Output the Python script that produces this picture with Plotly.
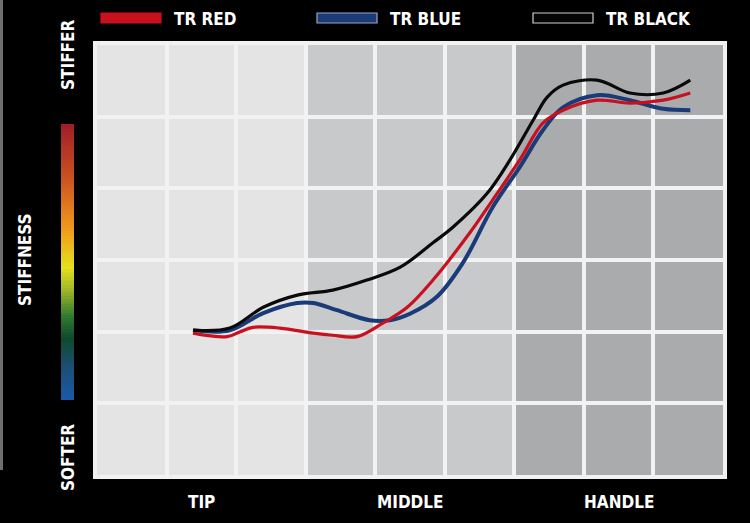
import plotly.graph_objects as go

W, H = 750, 523

# ---- data (x: position along shaft in grid units 0..9, y: stiffness in grid units 0..6)
red_x = [1.38, 1.87, 2.06, 2.24, 2.63, 3.11, 3.39, 3.74, 4.11, 4.46, 4.83, 5.36, 5.69, 6.08, 6.41, 6.70, 7.19, 7.66, 8.14, 8.53]
red_y = [1.98, 1.93, 2.00, 2.06, 2.05, 1.98, 1.95, 1.93, 2.12, 2.34, 2.72, 3.38, 3.84, 4.40, 4.91, 5.09, 5.23, 5.19, 5.23, 5.33]

blue_x = [1.38, 1.91, 2.39, 2.88, 3.11, 3.45, 3.92, 4.21, 4.50, 4.89, 5.26, 5.69, 6.08, 6.41, 6.70, 7.19, 7.66, 8.14, 8.53]
blue_y = [2.02, 2.02, 2.26, 2.40, 2.40, 2.30, 2.16, 2.16, 2.25, 2.49, 2.96, 3.74, 4.30, 4.81, 5.13, 5.30, 5.23, 5.11, 5.09]

black_x = [1.38, 1.91, 2.39, 2.88, 3.39, 3.88, 4.36, 4.83, 5.12, 5.61, 5.94, 6.27, 6.47, 6.70, 7.19, 7.66, 8.14, 8.53]
black_y = [2.02, 2.05, 2.34, 2.51, 2.58, 2.72, 2.90, 3.24, 3.46, 3.93, 4.40, 4.95, 5.27, 5.44, 5.51, 5.33, 5.33, 5.51]

section_labels = ["TIP", "MIDDLE", "HANDLE"]
section_pos = [1.5, 4.5, 7.5]
section_colors = ["#e4e4e4", "#c8c9ca", "#a9abac"]
series_names = ["TR RED", "TR BLUE", "TR BLACK"]
series_colors = ["#c8101e", "#1b3a78", "#0a0a0a"]
stiff_scale = [[0.0, "#1c58a8"], [0.12, "#1a4e72"], [0.22, "#0f4a2c"], [0.30, "#2f7a30"],
               [0.40, "#a3b828"], [0.48, "#e6e01c"], [0.62, "#f09a1c"], [0.80, "#cc5420"], [1.0, "#a01e28"]]

FONT = "DejaVu Sans Condensed, DejaVu Sans, sans-serif"
FS = 17

# plot area in pixels
PL, PR, PT, PB = 97, 723, 45, 475

fig = go.Figure()

for xs, ys, c, w in [(blue_x, blue_y, series_colors[1], 4),
                     (red_x, red_y, series_colors[0], 3.2),
                     (black_x, black_y, series_colors[2], 3.2)]:
    fig.add_trace(go.Scatter(x=xs, y=ys, mode="lines",
                             line=dict(color=c, width=w, shape="spline", smoothing=1.0),
                             showlegend=False, hoverinfo="skip"))

# stiffness gradient bar
fig.add_trace(go.Heatmap(z=[[i] for i in range(101)], x=[0], y=list(range(101)),
                         colorscale=stiff_scale, showscale=False, xaxis="x2", yaxis="y2",
                         hoverinfo="skip"))

shapes = []
# section shading
for i, c in enumerate(section_colors):
    shapes.append(dict(type="rect", xref="x", yref="y", x0=3 * i, x1=3 * i + 3, y0=0, y1=6,
                       fillcolor=c, line=dict(width=0), layer="below"))
# left grey strip
shapes.append(dict(type="rect", xref="paper", yref="paper", x0=0, x1=3 / W, y0=1 - 470 / H, y1=1,
                   fillcolor="#6e6e6e", line=dict(width=0), layer="below"))

annotations = []
# legend
leg_x = [101, 317, 533]
leg_fill = [series_colors[0], series_colors[1], "#050505"]
leg_line = [series_colors[0], "#9aa6c0", "#d0d0d0"]
for i, name in enumerate(series_names):
    x0 = leg_x[i]
    shapes.append(dict(type="rect", xref="paper", yref="paper", x0=x0 / W, x1=(x0 + 60) / W,
                       y0=1 - 23 / H, y1=1 - 13 / H, fillcolor=leg_fill[i],
                       line=dict(color=leg_line[i], width=1.2)))
    annotations.append(dict(text=name, xref="paper", yref="paper", x=(x0 + 71) / W, y=1 - 19 / H,
                            xanchor="left", yanchor="middle", showarrow=False,
                            font=dict(family=FONT, size=FS, color="white", weight="bold")))

# section labels
for lab, p in zip(section_labels, section_pos):
    annotations.append(dict(text=lab, xref="x", yref="paper", x=p, y=1 - 502 / H,
                            xanchor="center", yanchor="middle", showarrow=False,
                            font=dict(family=FONT, size=FS, color="white", weight="bold")))

# vertical labels
for txt, px, py in [("STIFFER", 68, 55), ("SOFTER", 68, 458), ("STIFFNESS", 25, 260)]:
    annotations.append(dict(text=txt, xref="paper", yref="paper", x=px / W, y=1 - py / H,
                            xanchor="center", yanchor="middle", textangle=-90, showarrow=False,
                            font=dict(family=FONT, size=FS, color="white", weight="bold")))

axis_common = dict(showgrid=True, gridcolor="#f2f2f2", gridwidth=4, dtick=1, tick0=0,
                   showticklabels=False, ticks="", zeroline=False,
                   showline=True, linecolor="#f2f2f2", linewidth=4, mirror=True, fixedrange=True)

fig.update_layout(
    width=W, height=H,
    margin=dict(l=0, r=0, t=0, b=0),
    paper_bgcolor="#000000",
    plot_bgcolor="#e4e4e4",
    showlegend=False,
    xaxis=dict(range=[0, 9], domain=[PL / W, PR / W], **axis_common),
    yaxis=dict(range=[0, 6], domain=[1 - PB / H, 1 - PT / H], **axis_common),
    xaxis2=dict(domain=[61 / W, 74 / W], anchor="y2", visible=False, fixedrange=True),
    yaxis2=dict(domain=[1 - 400 / H, 1 - 124 / H], anchor="x2", visible=False, fixedrange=True),
    shapes=shapes,
    annotations=annotations,
)

fig.write_html("out.html", config={"displayModeBar": False},
               post_script="document.body.style.margin='0';document.body.style.background='#000';")
